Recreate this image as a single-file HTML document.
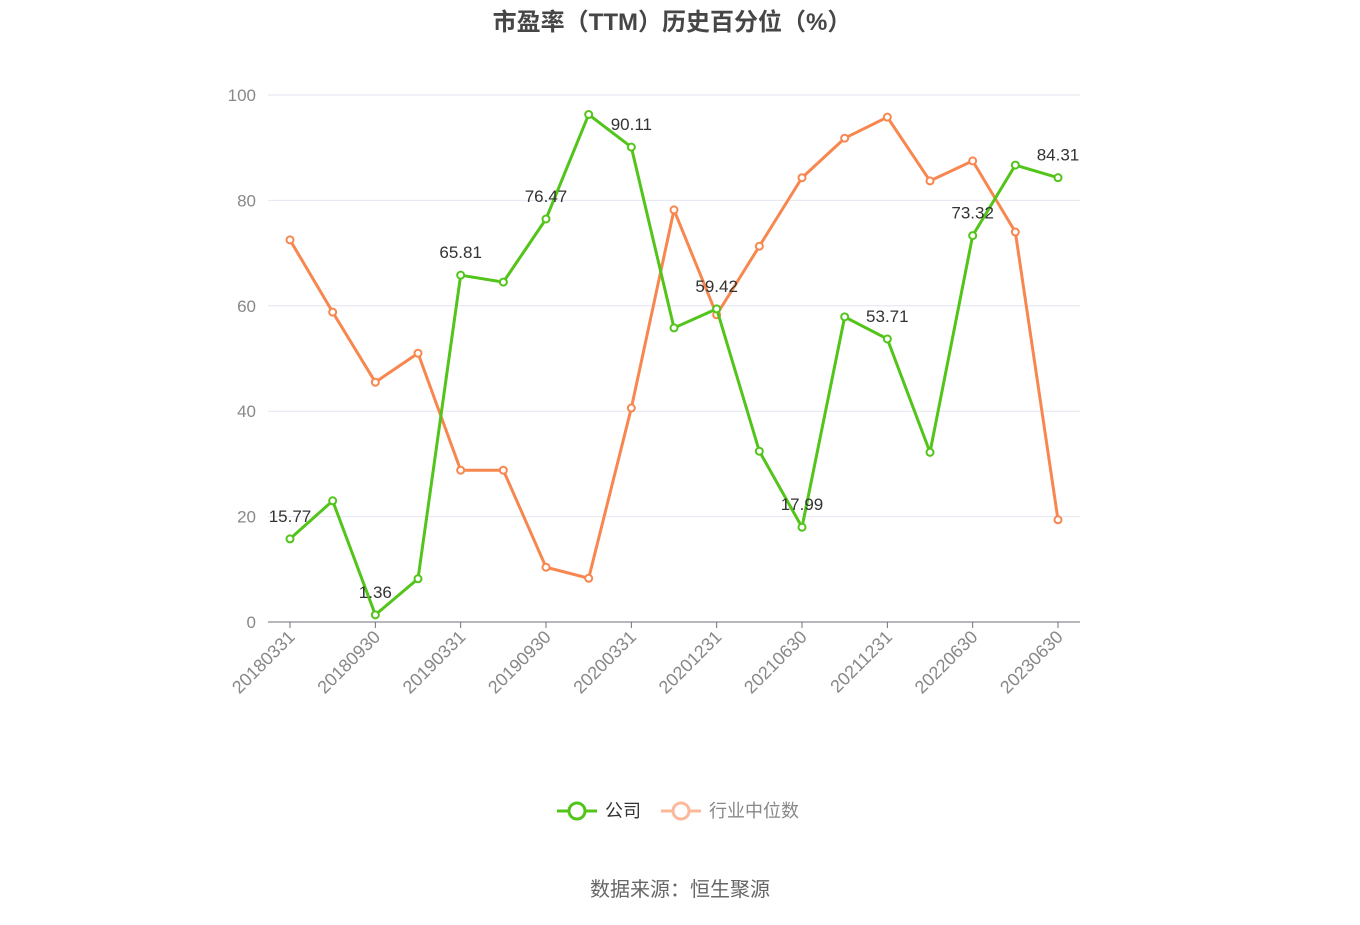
<!DOCTYPE html>
<html><head><meta charset="utf-8"><style>
body{margin:0;background:#fff;width:1360px;height:920px;overflow:hidden;font-family:"Liberation Sans","Noto Sans CJK SC",sans-serif}
</style></head><body>
<svg id="chart" width="1360" height="920" xmlns="http://www.w3.org/2000/svg" font-family="Liberation Sans, Noto Sans CJK SC, sans-serif">
<text x="672" y="30" text-anchor="middle" font-size="24" font-weight="bold" fill="#464646">市盈率（TTM）历史百分位（%）</text>
<g id="grid"></g><g id="axes"></g><g id="series"></g>
<g>
<g><line x1="557" y1="811" x2="597" y2="811" stroke="#52c41a" stroke-width="3"/><circle cx="577" cy="811" r="8" fill="#fff" stroke="#52c41a" stroke-width="3"/><text x="605" y="817" font-size="18" fill="#333">公司</text></g>
<g><line x1="661" y1="811" x2="701" y2="811" stroke="#fbb89a" stroke-width="3"/><circle cx="681" cy="811" r="8" fill="#fff" stroke="#fbb89a" stroke-width="3"/><text x="709" y="817" font-size="18" fill="#888">行业中位数</text></g>
</g>
<text x="680" y="896" text-anchor="middle" font-size="20" fill="#666">数据来源：恒生聚源</text>
</svg>
<script>
const categories=["20180331","20180630","20180930","20181231","20190331","20190630","20190930","20191231","20200331","20200930","20201231","20210331","20210630","20210930","20211231","20220331","20220630","20221231","20230630"];
const companyValues=[15.77,23,1.36,8.2,65.81,64.5,76.47,96.3,90.11,55.8,59.42,32.4,17.99,57.9,53.71,32.2,73.32,86.7,84.31];
const industryValues=[72.5,58.8,45.5,51,28.8,28.8,10.4,8.3,40.6,78.2,58.3,71.3,84.3,91.8,95.8,83.7,87.5,74,19.4];
const yTicks=[0,20,40,60,80,100];
const NS="http://www.w3.org/2000/svg";
const x0=290,x1=1058,yb=622,yt=95;
const xs=i=>x0+(x1-x0)*i/(categories.length-1);
const ys=v=>yb-(yb-yt)*v/100;
function mk(t,a,p){const e=document.createElementNS(NS,t);for(const k in a)e.setAttribute(k,a[k]);p.appendChild(e);return e;}
const grid=document.getElementById('grid'),axes=document.getElementById('axes'),ser=document.getElementById('series');
yTicks.forEach(v=>{
 const l=mk('line',{x1:268,x2:1080,y1:ys(v),y2:ys(v),stroke:v?'#e3e6f0':'#6e7079','stroke-width':1},grid);
 
 
 const t=mk('text',{x:256,y:ys(v)+6,'text-anchor':'end','font-size':17,fill:'#888'},axes);
 
 
 t.textContent=v;
});
categories.forEach((c,i)=>{
 if(i%2)return;
 mk('line',{x1:xs(i),x2:xs(i),y1:yb,y2:yb+6,stroke:'#6e7079'},axes);
 const t=mk('text',{x:xs(i)+6,y:yb+16,'text-anchor':'end','font-size':18,fill:'#888',transform:`rotate(-45 ${xs(i)+6} ${yb+16})`},axes);
 
 
 t.textContent=c;
});
function series(vals,color,name,labels){
 const p=mk('polyline',{points:vals.map((v,i)=>xs(i)+','+ys(v)).join(' '),fill:'none',stroke:color,'stroke-width':3},ser);
 
 
 vals.forEach((v,i)=>{
  const c=mk('circle',{cx:xs(i),cy:ys(v),r:3.5,fill:'#fff',stroke:color,'stroke-width':2},ser);
  
  
  if(labels&&i%2===0){
   const t=mk('text',{x:xs(i),y:ys(v)-17,'text-anchor':'middle','font-size':17,fill:'#333'},ser);
   
   
   t.textContent=v.toFixed(2);
  }
 });
}
series(industryValues,'#f7874f','industry-median',false);
series(companyValues,'#52c41a','company',true);
</script>
</body></html>
